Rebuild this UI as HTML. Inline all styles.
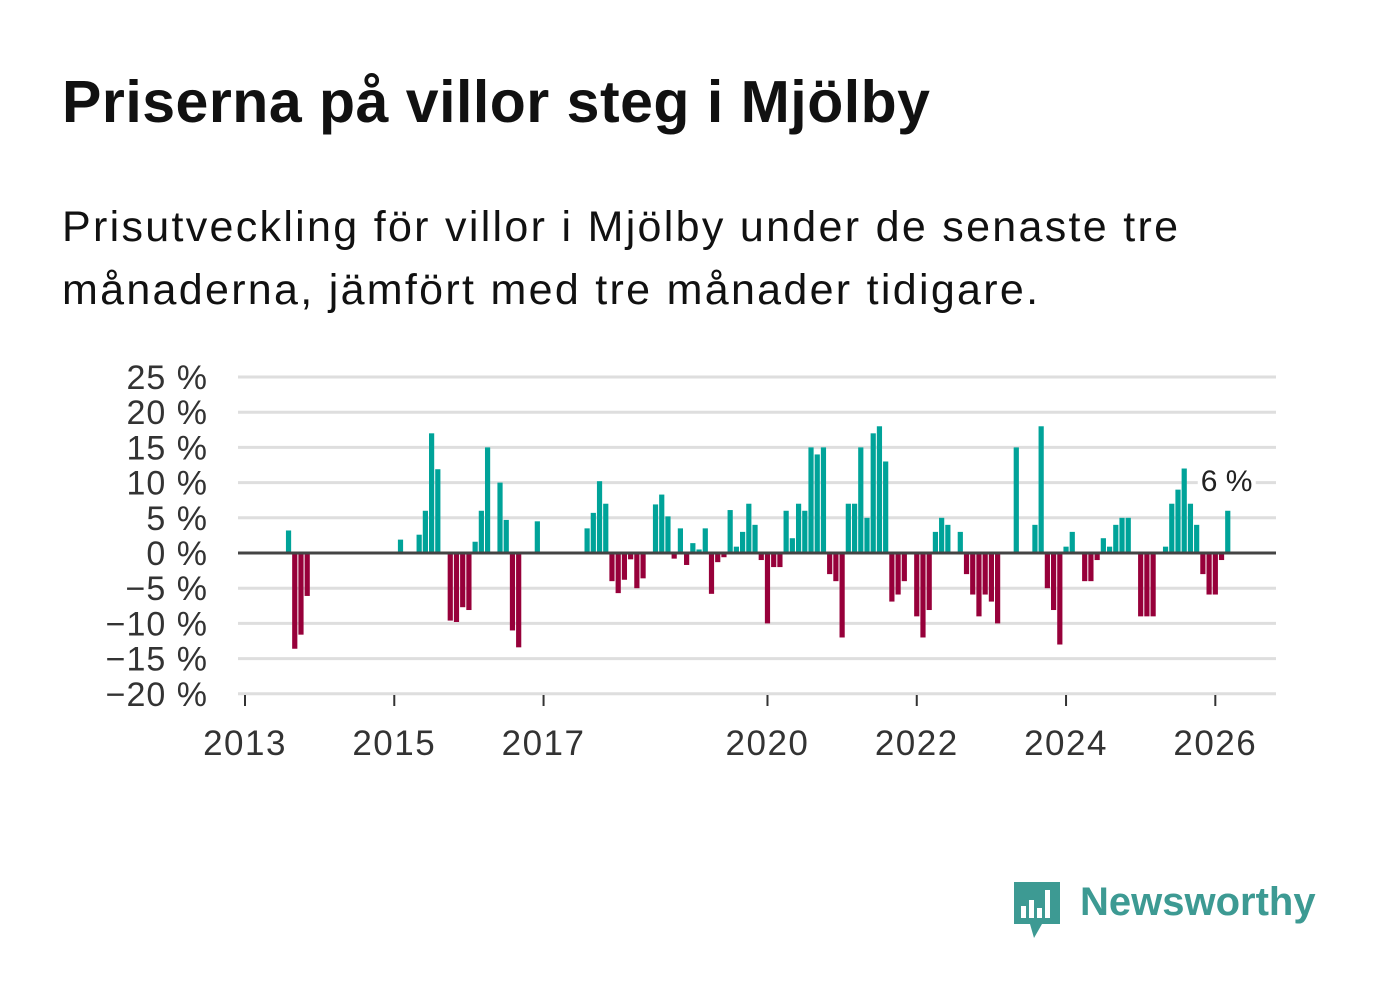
<!DOCTYPE html>
<html><head><meta charset="utf-8"><style>
body{margin:0;background:#fff;width:1382px;height:999px;overflow:hidden;font-family:"Liberation Sans",sans-serif}
.t{position:absolute;left:62px;top:68px;font-size:59px;letter-spacing:0.5px;font-weight:bold;color:#111;margin:0;white-space:nowrap}
.s{position:absolute;left:62px;top:196px;font-size:43px;letter-spacing:2.3px;line-height:63px;color:#111;margin:0;width:1300px;white-space:nowrap}
</style></head><body>
<h1 class="t">Priserna på villor steg i Mjölby</h1>
<p class="s">Prisutveckling för villor i Mjölby under de senaste tre<br>månaderna, jämfört med tre månader tidigare.</p>
<svg id="c" width="1382" height="999" style="position:absolute;left:0;top:0"></svg>
<div style="position:absolute;left:1012px;top:880px;">
<svg width="50" height="60"><path d="M2 2h46v42H30l-8 14-4-14H2z" fill="#3d9a93"/><rect x="9" y="26" width="5" height="12" fill="#fff"/><rect x="17" y="20" width="5" height="18" fill="#fff"/><rect x="25" y="28" width="5" height="10" fill="#fff"/><rect x="33" y="10" width="5" height="28" fill="#fff"/></svg>
<span style="position:absolute;left:68px;top:0px;font-size:40px;font-weight:bold;color:#3d9a93;white-space:nowrap">Newsworthy</span></div>
<script>
const months=[7,8,9,10,25,28,29,30,31,33,34,35,36,37,38,39,41,42,43,44,47,55,56,57,58,59,60,61,62,63,64,66,67,68,69,70,71,72,73,74,75,76,77,78,79,80,81,82,83,84,85,86,87,88,89,90,91,92,93,94,95,96,97,98,99,100,101,102,103,104,105,106,108,109,110,111,112,113,115,116,117,118,119,120,121,124,127,128,129,130,131,132,133,135,136,137,138,139,140,141,142,144,145,146,148,149,150,151,152,153,154,155,156,157,158];
const values=[3.2,-13.6,-11.6,-6.1,1.9,2.6,6,17,11.9,-9.6,-9.8,-7.7,-8.1,1.6,6,15,10,4.7,-11,-13.4,4.5,3.5,5.7,10.2,7,-4,-5.7,-3.8,-0.9,-5,-3.6,6.9,8.3,5.2,-0.8,3.5,-1.7,1.4,0.5,3.5,-5.8,-1.3,-0.6,6.1,0.9,3,7,4,-1,-10,-2,-2,6,2.1,7,6,15,14,15,-3,-4,-12,7,7,15,5,17,18,13,-6.9,-5.9,-4,-9,-12,-8.1,3,5,4,3,-3,-5.9,-9,-5.9,-6.9,-10,15,4,18,-5,-8.1,-13,0.9,3,-4,-4,-1,2.1,0.9,4,5,5,-9,-9,-9,0.9,7,9,12,7,4,-3,-5.9,-5.9,-1,6];
const yTicks=[25,20,15,10,5,0,-5,-10,-15,-20];
const xYears=[2013,2015,2017,2020,2022,2024,2026];
const lastLabel="6 %";
const NS="http://www.w3.org/2000/svg",svg=document.getElementById('c');
const y=v=>553-v*7.04, x=m=>245+m*6.22;
function mk(t,a,p){const e=document.createElementNS(NS,t);for(const k in a)e.setAttribute(k,a[k]);(p||svg).appendChild(e);return e;}
yTicks.forEach(v=>{
 const l=mk('line',{x1:238,x2:1276,y1:y(v),y2:y(v),stroke:'#dedede','stroke-width':3});
 
 
 const t=mk('text',{x:208,y:y(v)+12,'text-anchor':'end','font-size':34,'letter-spacing':1,fill:'#333','font-family':'Liberation Sans, sans-serif'});
 t.textContent=(v<0?'\u2212'+(-v):v)+' %';
 
 
});
xYears.forEach(yr=>{
 const px=x((yr-2013)*12);
 const l=mk('line',{x1:px,x2:px,y1:695,y2:706,stroke:'#333','stroke-width':2});
 
 
 const t=mk('text',{x:px,y:755,'text-anchor':'middle','font-size':35,'letter-spacing':1.5,fill:'#333','font-family':'Liberation Sans, sans-serif'});
 t.textContent=yr;
 
 
});
months.forEach((m,i)=>{
 const v=values[i];
 const r=mk('rect',{x:x(m)-2.6,width:5.2,y:Math.min(y(v),553),height:Math.abs(y(v)-553),fill:v>=0?'#00a399':'#97003a'});
 
 
});
const z=mk('line',{x1:238,x2:1276,y1:553,y2:553,stroke:'#444','stroke-width':3});


const lm=months[months.length-1];
const lb=mk('rect',{x:x(lm)-30,y:462,width:58,height:34,fill:'#fff'});


const lt=mk('text',{x:x(lm)-27,y:491,'font-size':30,fill:'#222','font-family':'Liberation Sans, sans-serif'});
lt.textContent=lastLabel;


</script>
</body></html>
